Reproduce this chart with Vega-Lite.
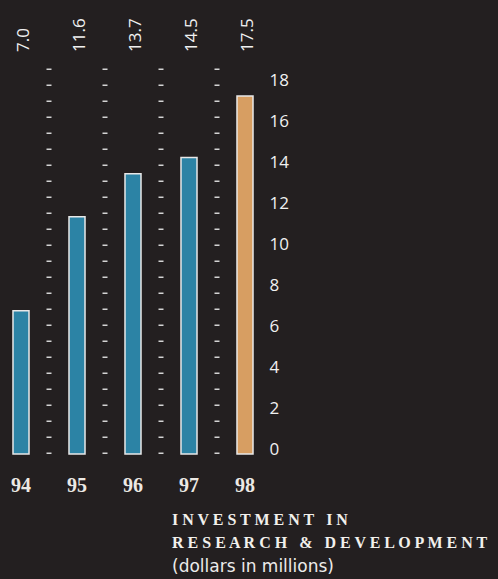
{
  "$schema": "https://vega.github.io/schema/vega-lite/v6.json",
  "width": 266,
  "height": 454,
  "autosize": "none",
  "padding": {"left": 0, "top": 0, "right": 232, "bottom": 125},
  "background": "#231f20",
  "config": {"view": {"stroke": null}},
  "data": {
    "values": [
      {"year": "94", "value": 7.0},
      {"year": "95", "value": 11.6},
      {"year": "96", "value": 13.7},
      {"year": "97", "value": 14.5},
      {"year": "98", "value": 17.5}
    ]
  },
  "title": {
    "text": ["I N V E S T M E N T\u00a0\u00a0\u00a0I N", "R E S E A R C H\u00a0\u00a0\u00a0&\u00a0\u00a0\u00a0D E V E L O P M E N T"],
    "subtitle": "(dollars in millions)",
    "orient": "bottom",
    "anchor": "start",
    "dx": 172,
    "offset": 17,
    "font": "Liberation Serif",
    "fontWeight": "bold",
    "fontSize": 16,
    "lineHeight": 23,
    "color": "#f2f0ec",
    "subtitleFont": "DejaVu Sans",
    "subtitleFontSize": 17,
    "subtitleColor": "#ecebea",
    "subtitlePadding": 8
  },
  "encoding": {
    "x": {
      "field": "year",
      "type": "ordinal",
      "scale": {"paddingInner": 0.714, "paddingOuter": 0.232},
      "axis": {
        "title": null,
        "domain": false,
        "ticks": false,
        "tickSize": 0,
        "labelAngle": 0,
        "labelFont": "Liberation Serif",
        "labelFontWeight": "bold",
        "labelFontSize": 20,
        "labelColor": "#ece9e4",
        "labelBaseline": "alphabetic",
        "labelPadding": 37
      }
    }
  },
  "layer": [
    {
      "transform": [{"filter": "datum.year != '98'"}],
      "mark": {"type": "rule", "xOffset": 28, "strokeWidth": 5, "strokeDash": [1.5, 14.5], "strokeCap": "butt", "color": "#d4d4d4"},
      "encoding": {
        "y": {"datum": 0, "type": "quantitative"},
        "y2": {"datum": 18.9}
      }
    },
    {
      "mark": {"type": "bar", "stroke": "#e8e8e8", "strokeWidth": 1.5},
      "encoding": {
        "y": {
          "field": "value",
          "type": "quantitative",
          "title": null,
          "scale": {"domain": [0, 22.2], "nice": false},
          "axis": {
            "orient": "right",
            "values": [0, 2, 4, 6, 8, 10, 12, 14, 16, 18],
            "domain": false,
            "ticks": false,
            "tickSize": 0,
            "grid": false,
            "labelPadding": 3,
            "labelAlign": "left",
            "labelBaseline": "alphabetic",
            "labelFont": "Open Sans",
            "labelFontSize": 17,
            "labelColor": "#f0f0f0"
          }
        },
        "color": {
          "field": "year",
          "type": "nominal",
          "scale": {"domain": ["94", "95", "96", "97", "98"], "range": ["#2c83a5", "#2c83a5", "#2c83a5", "#2c83a5", "#d79e62"]},
          "legend": null
        }
      }
    },
    {
      "mark": {"type": "text", "angle": 270, "align": "left", "baseline": "middle", "font": "Open Sans", "fontSize": 17, "color": "#f0f0f0", "xOffset": 3},
      "encoding": {
        "y": {"datum": 19.66, "type": "quantitative"},
        "text": {"field": "value", "type": "quantitative", "format": ".1f"}
      }
    }
  ]
}
